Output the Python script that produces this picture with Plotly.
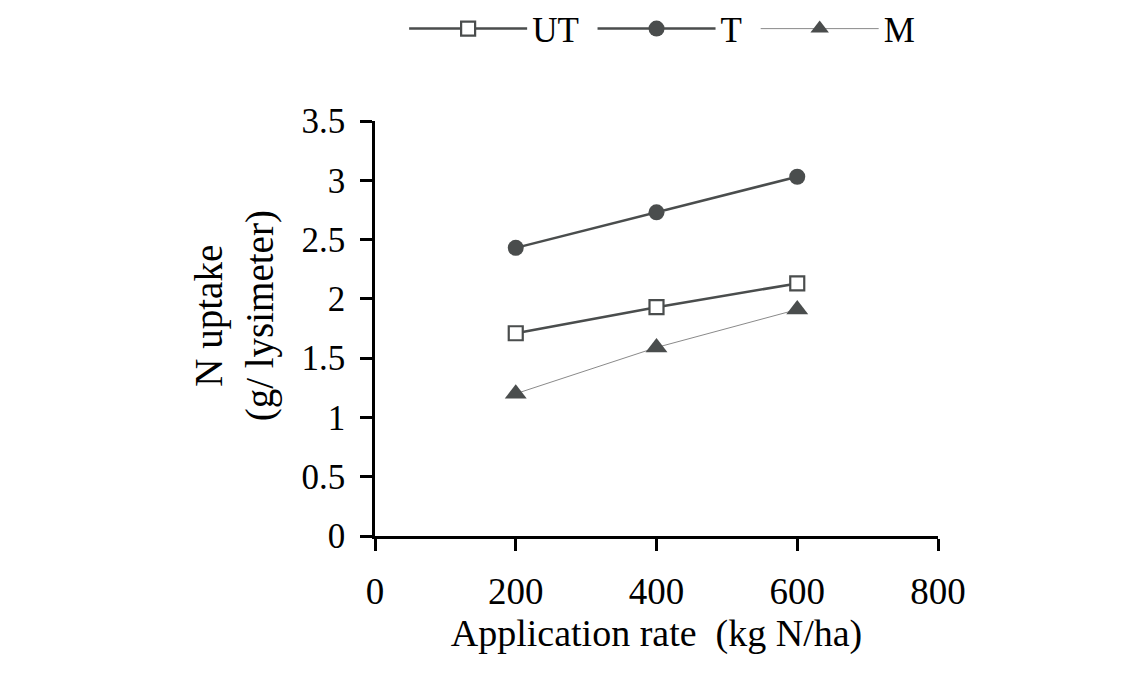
import plotly.graph_objects as go

x_rate = [200, 400, 600]
ut_vals = [1.71, 1.93, 2.13]
t_vals = [2.43, 2.73, 3.03]
m_vals = [1.20, 1.59, 1.91]

x_ticks = [0, 200, 400, 600, 800]
y_ticks = [0, 0.5, 1, 1.5, 2, 2.5, 3, 3.5]
y_tick_text = ["0", "0.5", "1", "1.5", "2", "2.5", "3", "3.5"]
series_names = ["UT\u00a0", "T\u00a0", "M"]
y_title = "N uptake<br>(g/ lysimeter)"
x_title = "Application rate  (kg N/ha)"

dark = "#4a4d4d"
font_family = "Liberation Serif, Times New Roman, serif"

fig = go.Figure()
fig.add_trace(go.Scatter(
    x=x_rate, y=ut_vals, name=series_names[0], mode="lines+markers",
    line=dict(color=dark, width=2.5),
    marker=dict(symbol="square", size=14, color="white",
                line=dict(color=dark, width=2.2)),
))
fig.add_trace(go.Scatter(
    x=x_rate, y=t_vals, name=series_names[1], mode="lines+markers",
    line=dict(color=dark, width=2.5),
    marker=dict(symbol="circle", size=16, color=dark,
                line=dict(color=dark, width=0)),
))
fig.add_trace(go.Scatter(
    x=x_rate, y=m_vals, name=series_names[2], mode="lines+markers",
    line=dict(color="#8a8a8a", width=1),
    marker=dict(symbol="triangle-up", size=19, color=dark,
                line=dict(color=dark, width=0)),
))

fig.add_annotation(
    text=y_title, textangle=-90, xref="paper", yref="paper",
    x=-0.25, y=0.53, xanchor="center", yanchor="middle",
    showarrow=False, font=dict(size=39, family=font_family, color="black"),
)

fig.update_layout(
    width=1130, height=672,
    paper_bgcolor="white", plot_bgcolor="white",
    margin=dict(l=367, r=200, t=113, b=144, autoexpand=False),
    font=dict(family=font_family, size=36, color="black"),
    showlegend=True,
    legend=dict(orientation="h", x=0.51, xanchor="center", y=1.222,
                yanchor="middle", yref="paper",
                font=dict(size=35), itemwidth=118,
                bgcolor="rgba(0,0,0,0)"),
    xaxis=dict(
        range=[0, 800], tickvals=x_ticks, showgrid=False, zeroline=False,
        showline=True, linecolor="black", linewidth=2.5,
        ticks="outside", ticklen=12, tickwidth=2.5, tickcolor="black",
        tickfont=dict(size=37), ticklabelstandoff=9,
        title=dict(text=x_title, font=dict(size=38), standoff=9),
    ),
    yaxis=dict(
        range=[0, 3.5], tickvals=y_ticks, ticktext=y_tick_text,
        showgrid=False, zeroline=False,
        showline=True, linecolor="black", linewidth=2.5,
        ticks="outside", ticklen=12, tickwidth=2.5, tickcolor="black",
        tickfont=dict(size=35), ticklabelstandoff=8,
    ),
)

fig.write_html("out.html")
